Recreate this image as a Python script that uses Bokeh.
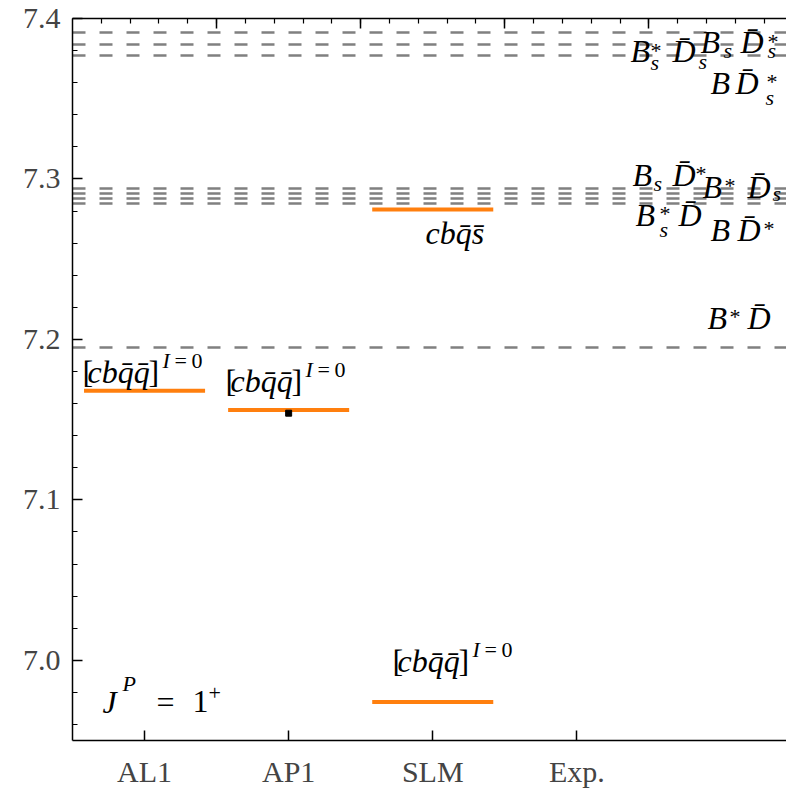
from bokeh.plotting import figure
from bokeh.models import ColumnDataSource, FixedTicker, LinearAxis, Range1d
from bokeh.embed import file_html
from bokeh.resources import INLINE
from bokeh.core.properties import value
import numpy as np

# ---------------- data ----------------
categories = ["AL1", "AP1", "SLM", "Exp."]
cat_pos = [1, 2, 3, 4]

# meson-meson thresholds (GeV)
threshold_values = [7.391, 7.384, 7.377, 7.294, 7.291, 7.288, 7.285, 7.195]

# predicted states (orange levels)
level_pos = [1, 2, 3, 3]
level_mass = [7.168, 7.156, 7.281, 6.974]

# small black marker
marker_pos = [2]
marker_mass = [7.154]

y_ticks = [7.0, 7.1, 7.2, 7.3, 7.4]
y_tick_labels = ["7.0", "7.1", "7.2", "7.3", "7.4"]

# ---------------- labels (anchor x, anchor y, pieces) ----------------
DB = "D\u0304"
M, S = "M", "S"
bracket = [("[", 0, 0, M, "n"), ("cbq\u0304q\u0304", 5, 0, M, "i"), ("]", 66, 0, M, "n"),
           ("I", 80, -15, S, "i"), ("=", 92, -15, S, "n"), ("0", 109, -15, S, "n")]
labels = [
    (4.372, 7.3726, [("B", 0, 0, M, "i"), ("*", 20, -5, S, "n"), ("s", 20, 7, S, "i"), (DB, 42, 0, M, "i"), ("s", 68, 6, S, "i")]),
    (4.858, 7.3782, [("B", 0, 0, M, "i"), ("s", 23, 4, S, "i"), (DB, 40, 0, M, "i"), ("*", 67, -5, S, "n"), ("s", 67, 4, S, "i")]),
    (4.927, 7.3532, [("B", 0, 0, M, "i"), (DB, 25, 0, M, "i"), ("*", 56, -5, S, "n"), ("s", 55, 11, S, "i")]),
    (4.386, 7.2959, [("B", 0, 0, M, "i"), ("s", 21, 5, S, "i"), (DB, 40, 0, M, "i"), ("*", 63, -5, S, "n")]),
    (4.872, 7.2884, [("B", 0, 0, M, "i"), ("*", 22, -5, S, "n"), (DB, 45, 0, M, "i"), ("s", 70, 3, S, "i")]),
    (4.407, 7.2709, [("B", 0, 0, M, "i"), ("*", 24, -5, S, "n"), ("s", 24, 11, S, "i"), (DB, 43, 0, M, "i")]),
    (4.927, 7.2616, [("B", 0, 0, M, "i"), (DB, 27, 0, M, "i"), ("*", 53, -5, S, "n")]),
    (4.907, 7.2067, [("B", 0, 0, M, "i"), ("*", 22, -5, S, "n"), (DB, 40, 0, M, "i")]),
    (2.950, 7.2597, [("cbq\u0304s\u0304", 0, 0, M, "i")]),
    (0.569, 7.1731, bracket),
    (1.562, 7.1675, bracket),
    (2.721, 6.9929, bracket),
    (0.708, 6.9673, [("J", 0, 0, M, "i"), ("P", 20, -22, S, "i"), ("=", 54, 0, M, "n"), ("1", 90, 0, M, "n"), ("+", 106, -13, S, "n")]),
]

FONT = "Liberation Serif"
SIZES = {"M": 32, "S": 22}

# ---------------- figure ----------------
p = figure(width=786, height=791, x_range=Range1d(0.5, 5.455), y_range=Range1d(6.95, 7.4),
           output_backend="svg", toolbar_location=None,
           min_border_left=72, min_border_right=0, min_border_top=18, min_border_bottom=51)
p.outline_line_color = None
p.xgrid.visible = False
p.ygrid.visible = False
p.background_fill_color = "white"
p.border_fill_color = "white"

# bottom axis
xa = p.xaxis[0]
xa.ticker = FixedTicker(ticks=cat_pos, minor_ticks=[])
xa.major_label_overrides = {c: t for c, t in zip(cat_pos, categories)}
xa.major_tick_in = 10
xa.major_tick_out = 0
xa.minor_tick_in = 0
xa.minor_tick_out = 0
xa.axis_line_width = 1.5
xa.major_tick_line_width = 1.5
xa.major_label_text_font = FONT
xa.major_label_text_font_size = "30px"
xa.major_label_standoff = 14

# left axis
ya = p.yaxis[0]
ya.ticker = FixedTicker(ticks=y_ticks, minor_ticks=list(np.round(np.arange(6.96, 7.40, 0.02), 2)))
ya.major_label_overrides = {t: l for t, l in zip(y_ticks, y_tick_labels)}
ya.major_tick_in = 10
ya.major_tick_out = 0
ya.minor_tick_in = 5
ya.minor_tick_out = 0
ya.axis_line_width = 1.5
ya.major_tick_line_width = 1.5
ya.minor_tick_line_width = 1.2
ya.major_label_text_font = FONT
ya.major_label_text_font_size = "30px"
ya.major_label_standoff = 12

# top axis (ticks only, labels not drawn)
top = LinearAxis(ticker=FixedTicker(ticks=[1.5, 2.5, 3.5, 4.5],
                                    minor_ticks=list(np.round(np.arange(0.7, 5.4, 0.2), 2))))
top.major_label_text_color = None
top.major_label_text_font_size = "1px"
top.major_label_standoff = 0
top.major_tick_in = 10
top.major_tick_out = 0
top.minor_tick_in = 5
top.minor_tick_out = 0
top.axis_line_width = 1.5
top.major_tick_line_width = 1.5
top.minor_tick_line_width = 1.2
p.add_layout(top, "above")

# thresholds
p.hspan(y=threshold_values, line_color="#808080", line_width=2.5, line_dash="13 14")

# levels
half = 0.42
lev = ColumnDataSource(dict(x0=[c - half for c in level_pos], x1=[c + half for c in level_pos], y=level_mass))
p.segment(x0="x0", x1="x1", y0="y", y1="y", source=lev, line_color="#ff7f0e", line_width=4)

p.scatter(marker_pos, marker_mass, marker="square", size=6, color="black")

# labels
groups = {}
for (ax, ay, pieces) in labels:
    for (txt, dx, dy, sz, st) in pieces:
        key = (sz, st)
        g = groups.setdefault(key, dict(x=[], y=[], text=[], dx=[], dy=[]))
        g["x"].append(ax)
        g["y"].append(ay)
        g["text"].append(txt)
        g["dx"].append(dx)
        g["dy"].append(dy - round(0.33 * SIZES[sz]))

for (sz, st), g in groups.items():
    src = ColumnDataSource(g)
    p.text(x="x", y="y", text="text", x_offset="dx", y_offset="dy", source=src,
           text_font=value(FONT), text_font_size=f"{SIZES[sz]}px",
           text_font_style="italic" if st == "i" else "normal",
           text_align="left", text_baseline="alphabetic", text_color="black")

open("out.html", "w").write(file_html(p, INLINE))
